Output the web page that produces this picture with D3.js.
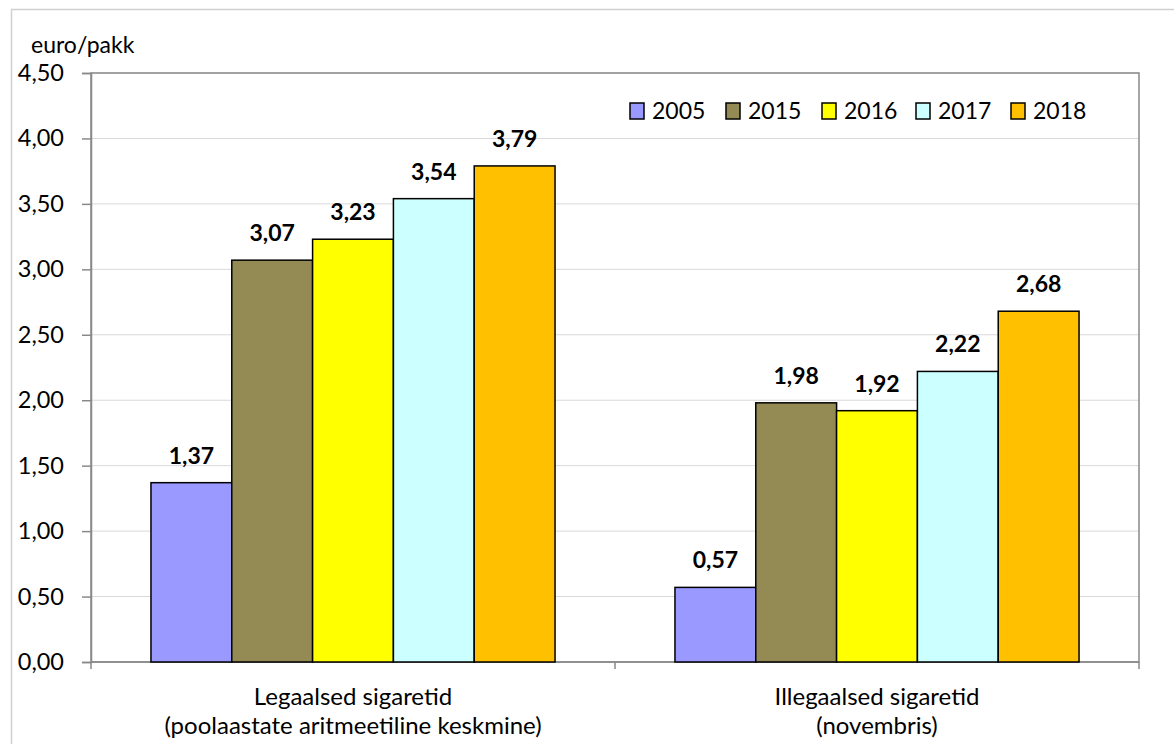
<!DOCTYPE html>
<html><head><meta charset="utf-8">
<script src="https://cdn.jsdelivr.net/npm/d3@7"></script>
<style>body{margin:0;background:#fff}svg{display:block}text{font-family:Lato,"Open Sans",sans-serif;fill:#000}</style>
</head><body><svg id="c" width="1174" height="744"></svg>
<script>
const categories = [["Legaalsed sigaretid","(poolaastate aritmeetiline keskmine)"],["Illegaalsed sigaretid","(novembris)"]];
const years = ["2005","2015","2016","2017","2018"];
const values2005 = [1.37, 0.57];
const values2015 = [3.07, 1.98];
const values2016 = [3.23, 1.92];
const values2017 = [3.54, 2.22];
const values2018 = [3.79, 2.68];
const colors = ["#9999FF","#948A54","#FFFF00","#CCFFFF","#FFC000"];
const yTicks = [0,0.5,1,1.5,2,2.5,3,3.5,4,4.5];
const yLabel = "euro/pakk";

const series = [values2005, values2015, values2016, values2017, values2018];
const fmt = v => v.toFixed(2).replace(".", ",");
const svg = d3.select("#c");
const L = 91, R = 1139, T = 73, B = 662;

svg.append("rect").attr("x",11.5).attr("y",9.5).attr("width",1200).attr("height",800)
  .attr("fill","none").attr("stroke","#d0d0d0").attr("stroke-width",1.5);

const y = d3.scaleLinear().domain([0,4.5]).range([B,T]);
const x0 = d3.scaleBand().domain(d3.range(categories.length)).range([L,R]).padding(0);
const x1 = d3.scaleBand().domain(years).range([0,x0.bandwidth()]).paddingInner(0).paddingOuter(0.742);

// gridlines
svg.append("g").selectAll("line").data(yTicks.filter(d=>d>0)).join("line")
  .attr("x1",L).attr("x2",R).attr("y1",d=>y(d)).attr("y2",d=>y(d))
  .attr("stroke","#d9d9d9").attr("stroke-width",1);

// plot border
svg.append("rect").attr("x",L).attr("y",T).attr("width",R-L).attr("height",B-T)
  .attr("fill","none").attr("stroke","#898989").attr("stroke-width",1.5);

// y axis
const yAxis = d3.axisLeft(y).tickValues(yTicks).tickFormat(fmt).tickSize(9).tickPadding(18);
const gy = svg.append("g").attr("transform",`translate(${L},0)`).call(yAxis);
gy.select(".domain").attr("stroke","#898989").attr("stroke-width",1.5);
gy.selectAll(".tick line").attr("stroke","#898989").attr("stroke-width",1.5);
gy.selectAll(".tick text").style("font-size","23.5px").attr("fill","#000");

// x axis ticks at band boundaries
const bounds = d3.range(categories.length+1).map(i => i<categories.length ? x0(i) : R);
svg.append("g").selectAll("line").data(bounds).join("line")
  .attr("x1",d=>d).attr("x2",d=>d).attr("y1",B).attr("y2",B+7)
  .attr("stroke","#898989").attr("stroke-width",1.5);
svg.append("line").attr("x1",L).attr("x2",R).attr("y1",B).attr("y2",B).attr("stroke","#898989").attr("stroke-width",1.5);

// bars
categories.forEach((c,ci)=>{
  const g = svg.append("g").attr("transform",`translate(${x0(ci)},0)`);
  years.forEach((yr,si)=>{
    const v = series[si][ci];
    g.append("rect").attr("x",x1(yr)).attr("y",y(v)).attr("width",x1.bandwidth()).attr("height",B-y(v))
      .attr("fill",colors[si]).attr("stroke","#000").attr("stroke-width",1.5);
    g.append("text").attr("x",x1(yr)+x1.bandwidth()/2).attr("y",y(v)-19)
      .attr("text-anchor","middle").style("font-size","23px").style("font-weight","bold").text(fmt(v));
  });
  const t = svg.append("text").attr("text-anchor","middle").style("font-size","24px");
  c.forEach((line,li)=>{
    t.append("tspan").attr("x",x0(ci)+x0.bandwidth()/2).attr("y",705+li*29).text(line);
  });
});

// y label
svg.append("text").attr("x",31).attr("y",53).style("font-size","23px").text(yLabel);

// legend
const legX = [630,726,822,916,1011];
years.forEach((yr,i)=>{
  svg.append("rect").attr("x",legX[i]).attr("y",103).attr("width",14).attr("height",16)
    .attr("fill",colors[i]).attr("stroke","#000").attr("stroke-width",1.5);
  svg.append("text").attr("x",legX[i]+22).attr("y",119).style("font-size","23px").text(yr);
});
</script></body></html>
